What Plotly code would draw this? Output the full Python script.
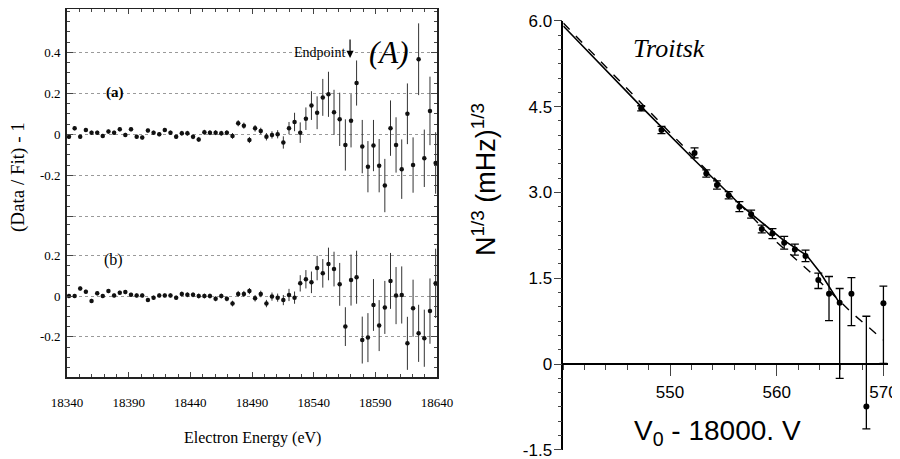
import plotly.graph_objects as go

# ---------------- data: left panel (A) ----------------
energy = [18341.6, 18346.2, 18350.7, 18355.3, 18359.9, 18364.5, 18369.0, 18373.6, 18378.2, 18382.8,
          18387.3, 18391.9, 18396.5, 18401.0, 18405.6, 18410.2, 18414.8, 18419.3, 18423.9, 18428.5,
          18433.1, 18437.6, 18442.2, 18446.8, 18451.4, 18455.9, 18460.5, 18465.1, 18469.6, 18474.2,
          18478.8, 18483.4, 18487.9, 18492.5, 18497.1, 18501.7, 18506.2, 18510.8, 18515.4, 18520.0,
          18524.5, 18529.1, 18533.7, 18538.2, 18542.8, 18547.4, 18552.0, 18556.5, 18561.1, 18565.7,
          18570.3, 18574.8, 18579.4, 18584.0, 18588.5, 18593.1, 18597.7, 18602.3, 18606.8, 18611.4,
          18616.0, 18620.6, 18625.1, 18629.7, 18634.3, 18638.9]

resid_a = [-0.012, 0.029, -0.012, 0.021, 0.008, 0.008, -0.008, 0.013, 0.008, 0.024,
           -0.003, 0.024, -0.012, -0.016, 0.018, 0.008, 0.0, 0.021, 0.008, -0.012,
           0.005, 0.005, -0.012, -0.025, 0.01, 0.008, 0.008, 0.005, 0.008, -0.008,
           0.054, 0.042, -0.028, 0.029, 0.016, -0.012, -0.003, 0.0, -0.04, 0.03,
           0.06, 0.008, 0.076, 0.14, 0.105, 0.18, 0.195, 0.107, 0.073, -0.052,
           0.066, 0.25, -0.06, -0.158, -0.055, -0.153, -0.25, 0.03, -0.052, -0.17,
           0.10, -0.15, 0.366, -0.117, 0.114, -0.14]
err_a = [0.01, 0.01, 0.01, 0.01, 0.01, 0.01, 0.01, 0.01, 0.01, 0.01,
         0.01, 0.01, 0.01, 0.01, 0.01, 0.01, 0.01, 0.01, 0.01, 0.01,
         0.012, 0.012, 0.012, 0.012, 0.012, 0.012, 0.012, 0.012, 0.012, 0.014,
         0.015, 0.015, 0.015, 0.016, 0.016, 0.018, 0.018, 0.02, 0.03, 0.03,
         0.045, 0.05, 0.055, 0.07, 0.08, 0.09, 0.11, 0.11, 0.13, 0.125,
         0.13, 0.11, 0.13, 0.125, 0.125, 0.13, 0.13, 0.135, 0.135, 0.145,
         0.148, 0.135, 0.175, 0.14, 0.167, 0.15]

resid_b = [0.0, 0.0, 0.037, 0.021, -0.024, 0.013, 0.0, 0.024, 0.003, 0.016,
           0.019, 0.006, 0.003, 0.003, -0.019, -0.008, 0.003, 0.003, 0.003, -0.008,
           0.01, 0.006, 0.006, 0.0, 0.0, 0.0, -0.014, 0.0, -0.014, -0.037,
           0.01, 0.01, 0.024, -0.011, 0.01, -0.037, -0.003, -0.008, -0.02, 0.005,
           -0.008, 0.062, 0.082, 0.067, 0.137, 0.111, 0.157, 0.132, 0.057, -0.15,
           0.078, 0.092, -0.216, -0.204, -0.044, -0.145, -0.056, 0.074, 0.002, 0.005,
           -0.232, -0.06, -0.183, -0.207, -0.074, 0.062]
err_b = [0.01, 0.01, 0.01, 0.01, 0.01, 0.01, 0.01, 0.01, 0.01, 0.01,
         0.01, 0.01, 0.01, 0.01, 0.01, 0.01, 0.01, 0.01, 0.01, 0.01,
         0.012, 0.012, 0.012, 0.012, 0.012, 0.012, 0.012, 0.012, 0.012, 0.014,
         0.015, 0.015, 0.015, 0.016, 0.016, 0.018, 0.02, 0.02, 0.025, 0.03,
         0.03, 0.04, 0.045, 0.053, 0.06, 0.07, 0.08, 0.085, 0.105, 0.095,
         0.125, 0.13, 0.115, 0.12, 0.127, 0.125, 0.13, 0.137, 0.14, 0.14,
         0.13, 0.14, 0.14, 0.14, 0.16, 0.17]

left_xticks = [18340, 18390, 18440, 18490, 18540, 18590, 18640]
left_xlabels = ["18340", "18390", "18440", "18490", "18540", "18590", "18640"]
upper_yticks = [-0.4, -0.2, 0, 0.2, 0.4]
upper_ylabels = ["", "-0.2", "0", "0.2", "0.4"]
lower_yticks = [-0.2, 0, 0.2]
lower_ylabels = ["-0.2", "0", "0.2"]

# ---------------- data: right panel (Troitsk) ----------------
volt = [547.3, 549.2, 552.3, 553.4, 554.4, 555.5, 556.5, 557.6, 558.6, 559.6,
        560.7, 561.7, 562.7, 563.9, 564.9, 565.9, 567.0, 568.4, 570.0]
rate = [4.47, 4.09, 3.69, 3.33, 3.13, 2.95, 2.75, 2.62, 2.36, 2.28,
        2.12, 2.00, 1.89, 1.47, 1.23, 1.07, 1.23, -0.745, 1.06]
rate_err_up = [0.045, 0.064, 0.087, 0.064, 0.073, 0.064, 0.087, 0.07, 0.067, 0.087,
               0.11, 0.096, 0.1, 0.12, 0.3, 0.25, 0.28, 1.58, 0.3]
rate_err_dn = [0.045, 0.064, 0.087, 0.064, 0.073, 0.064, 0.087, 0.07, 0.067, 0.087,
               0.11, 0.096, 0.1, 0.15, 0.47, 1.32, 0.56, 0.39, 1.05]

fit_solid_x = [540, 547.3, 552, 556.6, 560.6, 562.8, 564.1, 564.9, 565.8]
fit_solid_y = [5.91, 4.5, 3.62, 2.78, 2.17, 1.9, 1.59, 1.35, 1.09]
fit_dash_x = [540, 550, 556, 560, 563, 567, 570]
fit_dash_y = [5.96, 4.05, 2.9, 2.13, 1.63, 0.9, 0.42]

right_xticks = [550, 560, 570]
right_xlabels = ["550", "560", "570"]
right_yticks = [-1.5, 0, 1.5, 3.0, 4.5, 6.0]
right_ylabels = ["-1.5", "0", "1.5", "3.0", "4.5", "6.0"]

# page body has an 8px margin: figure is drawn from (8, 8) in the window
OFF = 8
W, H = 900 - OFF, 459 - OFF
def px(x):
    return (x - OFF) / W
def py(y):
    return 1 - (y - OFF) / H

SERIF = "Liberation Serif"
SANS = "Liberation Sans"

fig = go.Figure()

# left panel traces
fig.add_trace(go.Scatter(
    x=energy, y=resid_a, mode="markers", xaxis="x", yaxis="y",
    marker=dict(size=4.5, color="#111"),
    error_y=dict(type="data", array=err_a, color="#333", thickness=1, width=0)))
fig.add_trace(go.Scatter(
    x=energy, y=resid_b, mode="markers", xaxis="x2", yaxis="y2",
    marker=dict(size=4.5, color="#111"),
    error_y=dict(type="data", array=err_b, color="#333", thickness=1, width=0)))

# right panel traces
fig.add_trace(go.Scatter(
    x=fit_dash_x, y=fit_dash_y, mode="lines", xaxis="x3", yaxis="y3",
    line=dict(color="black", width=1.4, dash="dash")))
fig.add_trace(go.Scatter(
    x=fit_solid_x, y=fit_solid_y, mode="lines", xaxis="x3", yaxis="y3",
    line=dict(color="black", width=1.6)))
fig.add_trace(go.Scatter(
    x=volt, y=rate, mode="markers", xaxis="x3", yaxis="y3",
    marker=dict(size=6, color="black"),
    error_y=dict(type="data", symmetric=False, array=rate_err_up,
                 arrayminus=rate_err_dn, color="black", thickness=1.3, width=4)))

left_dom = [px(67), px(437)]
tickfont_l = dict(family=SERIF, size=13, color="black")

fig.update_layout(
    width=W, height=H,
    margin=dict(l=0, r=0, t=0, b=0, autoexpand=False),
    paper_bgcolor="white", plot_bgcolor="white",
    showlegend=False,
    xaxis=dict(domain=left_dom, range=[18340, 18640], anchor="y", side="top",
               automargin=False,
               showticklabels=False, showline=True, linecolor="#222", linewidth=1.5,
               ticks="inside", ticklen=5, tickvals=left_xticks, showgrid=False,
               zeroline=False,
               minor=dict(ticks="inside", ticklen=3, dtick=10, tick0=18340, showgrid=False)),
    xaxis2=dict(domain=left_dom, range=[18340, 18640], anchor="y2", side="bottom",
                automargin=False,
                showline=True, linecolor="#222", linewidth=1.5,
                ticks="inside", ticklen=5, tickvals=left_xticks, ticktext=left_xlabels,
                showgrid=False, ticklabeloverflow="allow",
                zeroline=False, tickfont=tickfont_l, ticklabelstandoff=13,
                minor=dict(ticks="inside", ticklen=3, dtick=10, tick0=18340, showgrid=False)),
    yaxis=dict(domain=[py(220), py(9)], range=[-0.418, 0.611], anchor="x",
               automargin=False,
               showline=True, linecolor="#222", linewidth=1.8, mirror="ticks",
               ticks="inside", ticklen=6, tickvals=upper_yticks, ticktext=upper_ylabels,
               tickfont=tickfont_l, ticklabelstandoff=2,
               showgrid=True, gridcolor="#9a9a9a", griddash="dot", gridwidth=1,
               zeroline=False,
               minor=dict(ticks="inside", ticklen=3, dtick=0.05, tick0=0, showgrid=False)),
    yaxis2=dict(domain=[py(377), py(220)], range=[-0.397, 0.3725], anchor="x2",
                automargin=False,
                showline=True, linecolor="#222", linewidth=1.8, mirror="ticks",
                ticks="inside", ticklen=6, tickvals=lower_yticks, ticktext=lower_ylabels,
                tickfont=tickfont_l, ticklabelstandoff=2,
                showgrid=True, gridcolor="#9a9a9a", griddash="dot", gridwidth=1,
                zeroline=False,
                minor=dict(ticks="inside", ticklen=3, dtick=0.05, tick0=0, showgrid=False)),
    xaxis3=dict(domain=[px(563.3), px(887.7)], range=[540, 570.4], anchor="free",
                automargin=False,
                position=py(364), showline=True, linecolor="black", linewidth=1.5,
                ticks="outside", ticklen=11, tickwidth=1.3, tickvals=right_xticks,
                ticktext=right_xlabels, ticklabeloverflow="allow",
                tickfont=dict(family=SANS, size=17, color="black"),
                ticklabelstandoff=2, showgrid=False, zeroline=False,
                minor=dict(ticks="outside", ticklen=5, dtick=2, tick0=540, showgrid=False)),
    yaxis3=dict(domain=[py(449.8), py(20.8)], range=[-1.5, 6.0], anchor="x3",
                automargin=False,
                showline=True, linecolor="black", linewidth=1.5,
                ticks="outside", ticklen=8, tickwidth=1.3, tickvals=right_yticks,
                ticktext=right_ylabels, ticklabeloverflow="allow",
                tickfont=dict(family=SANS, size=17, color="black"),
                ticklabelstandoff=-2, showgrid=False, zeroline=False,
                minor=dict(ticks="outside", ticklen=4, dtick=0.25, tick0=0, showgrid=False)),
)

C = dict(xanchor="center", yanchor="middle", showarrow=False)
ann = []
# left panel texts
ann.append(dict(text="Endpoint", x=18545, y=0.40, xref="x", yref="y", **C,
                font=dict(family=SERIF, size=14, color="black")))
ann.append(dict(text="", x=18569.5, y=0.372, ax=18569.5, ay=0.47, xref="x", yref="y",
                axref="x", ayref="y", showarrow=True, arrowhead=2, arrowsize=1.2,
                arrowwidth=1.2, arrowcolor="black"))
ann.append(dict(text="<i>(A)</i>", x=18600.7, y=0.40, xref="x", yref="y", **C,
                font=dict(family=SERIF, size=31, color="black")))
ann.append(dict(text="<b>(a)</b>", x=18378.9, y=0.206, xref="x", yref="y", **C,
                font=dict(family=SERIF, size=15, color="black")))
ann.append(dict(text="(b)", x=18377.3, y=0.176, xref="x2", yref="y2", **C,
                font=dict(family=SERIF, size=16, color="black")))
ann.append(dict(text="Electron Energy (eV)", x=px(252), y=py(438), xref="paper", yref="paper",
                **C, font=dict(family=SERIF, size=16, color="black")))
ann.append(dict(text="(Data / Fit) - 1", x=px(18), y=py(177), xref="paper", yref="paper",
                textangle=-90, **C,
                font=dict(family=SERIF, size=19, color="black")))
# right panel texts
ann.append(dict(text="<i>Troitsk</i>", x=549.95, y=5.52, xref="x3", yref="y3", **C,
                font=dict(family=SERIF, size=26, color="black")))
ann.append(dict(text="V<sub>0</sub> - 18000. V", x=px(717), y=py(432), xref="paper", yref="paper",
                **C, font=dict(family=SANS, size=28, color="black")))
ann.append(dict(text="N<sup>1/3</sup> (mHz)<sup>1/3</sup>", x=px(484), y=py(180),
                xref="paper", yref="paper", textangle=-90, **C,
                font=dict(family=SANS, size=27, color="black")))
fig.update_layout(annotations=ann)

fig.write_html("out.html")
